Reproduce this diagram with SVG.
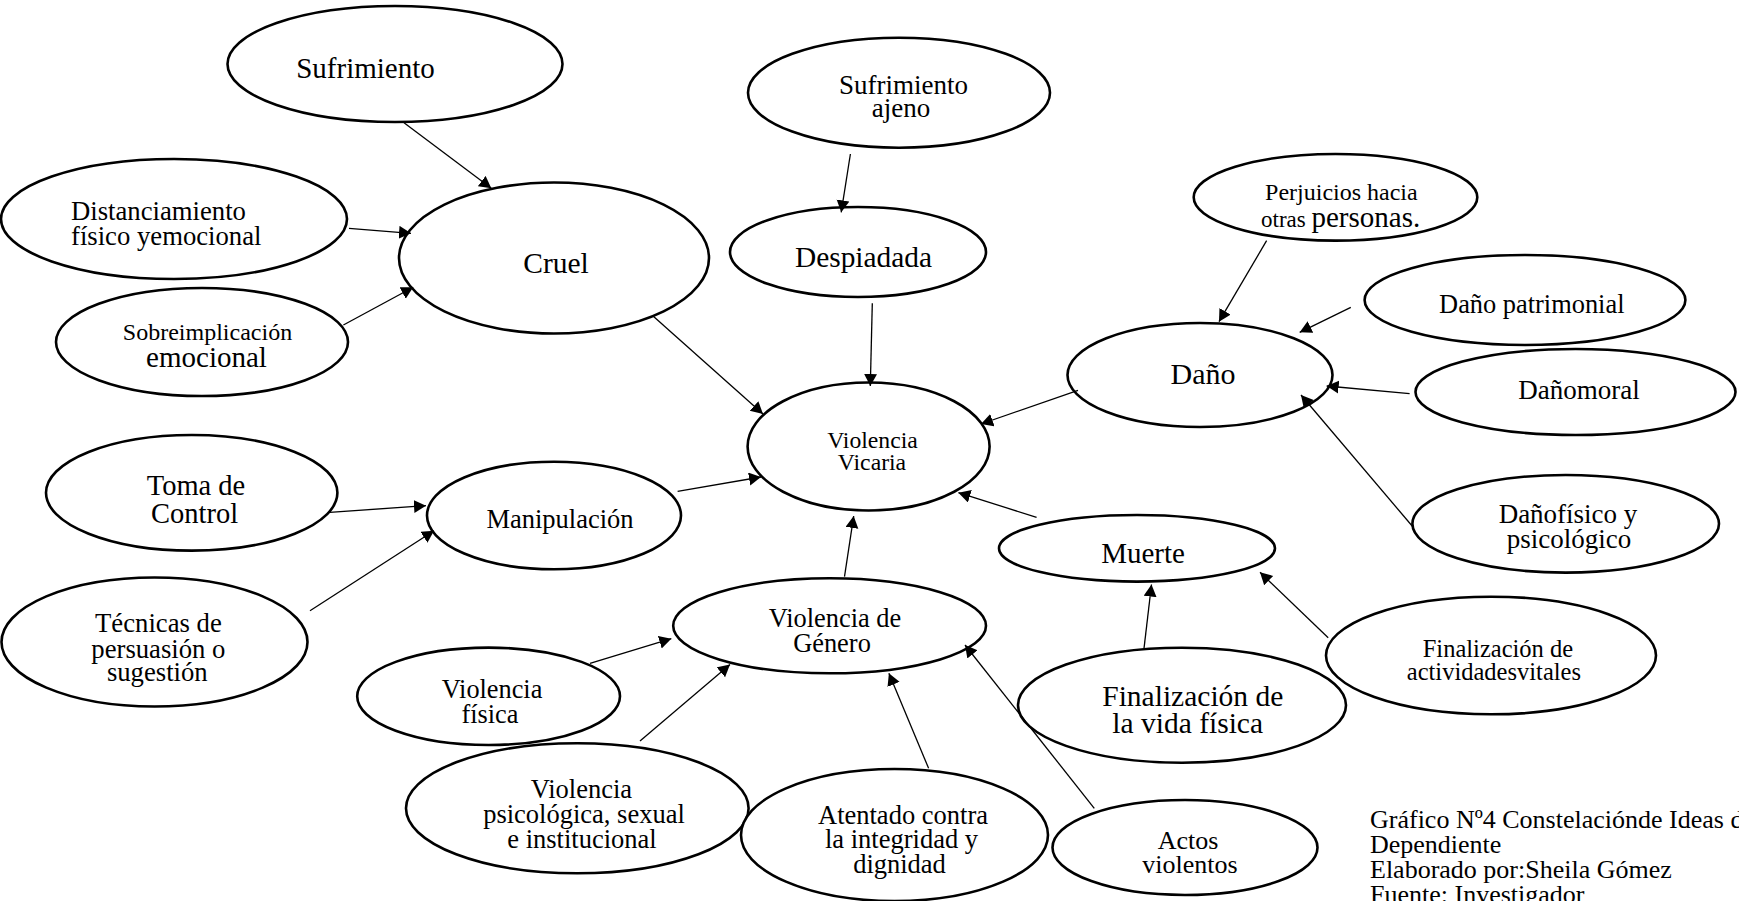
<svg xmlns="http://www.w3.org/2000/svg" width="1739" height="901" viewBox="0 0 1739 901">
<defs>
<style>
.n ellipse{fill:#fff;stroke:#000;stroke-width:2.6}
text{font-family:"Liberation Serif","Times New Roman",serif;fill:#000}
.c{text-anchor:middle}
#edges line{stroke:#000;stroke-width:1.3;marker-end:url(#ah)}
</style>
<marker id="ah" markerUnits="userSpaceOnUse" markerWidth="13" markerHeight="14" refX="12" refY="6.5" orient="auto">
<path d="M0,0 L12,6.5 L0,13 Z" fill="#000"/>
</marker>
</defs>
<rect width="1739" height="901" fill="#fff"/>
<g id="sufrimiento" class="n"><ellipse cx="395" cy="64" rx="167.5" ry="58"/><text class="c" x="365.5" y="78" font-size="29">Sufrimiento</text></g>
<g id="cruel" class="n"><ellipse cx="554" cy="258" rx="155" ry="75.5"/><text class="c" x="556" y="273" font-size="29.5">Cruel</text></g>
<g id="distanciamiento" class="n"><ellipse cx="174" cy="219" rx="173" ry="60"/><text x="71" y="220" font-size="26.7">Distanciamiento</text><text x="71" y="245" font-size="26.7">físico yemocional</text></g>
<g id="sobreimplicacion" class="n"><ellipse cx="202" cy="342" rx="146" ry="54"/><text class="c" x="207.5" y="340" font-size="24">Sobreimplicación</text><text class="c" x="206.5" y="367" font-size="29">emocional</text></g>
<g id="sufrimiento-ajeno" class="n"><ellipse cx="899" cy="92.7" rx="151" ry="55"/><text class="c" x="903.5" y="94" font-size="27">Sufrimiento</text><text class="c" x="901" y="117" font-size="27">ajeno</text></g>
<g id="despiadada" class="n"><ellipse cx="858" cy="252" rx="128" ry="45"/><text class="c" x="863.5" y="267" font-size="29.4">Despiadada</text></g>
<g id="violencia-vicaria" class="n"><ellipse cx="868.6" cy="446.5" rx="121" ry="64"/><text class="c" x="872.5" y="448" font-size="23.7">Violencia</text><text class="c" x="872" y="470" font-size="23.7">Vicaria</text></g>
<g id="perjuicios" class="n"><ellipse cx="1335.5" cy="197.3" rx="141.8" ry="43.3"/><text class="c" x="1341.4" y="200" font-size="24">Perjuicios hacia</text><text x="1261" y="227" font-size="23">otras <tspan font-size="29">personas.</tspan></text></g>
<g id="dano-patrimonial" class="n"><ellipse cx="1525" cy="300" rx="160.4" ry="45"/><text class="c" x="1531.8" y="313" font-size="26.4">Daño patrimonial</text></g>
<g id="dano" class="n"><ellipse cx="1200" cy="375" rx="132.5" ry="52"/><text class="c" x="1203" y="384" font-size="30">Daño</text></g>
<g id="dano-moral" class="n"><ellipse cx="1575.5" cy="392" rx="160" ry="43"/><text class="c" x="1579" y="399" font-size="27">Dañomoral</text></g>
<g id="dano-fisico" class="n"><ellipse cx="1565.7" cy="523.8" rx="153.3" ry="48.8"/><text class="c" x="1568" y="523" font-size="27">Dañofísico y</text><text class="c" x="1569" y="548" font-size="27">psicológico</text></g>
<g id="manipulacion" class="n"><ellipse cx="554" cy="515.5" rx="127" ry="53.8"/><text class="c" x="560" y="528" font-size="26.5">Manipulación</text></g>
<g id="toma-de-control" class="n"><ellipse cx="191.7" cy="492.8" rx="145.7" ry="57.8"/><text class="c" x="196" y="495" font-size="28.5">Toma de</text><text class="c" x="194.6" y="522.7" font-size="28.5">Control</text></g>
<g id="tecnicas" class="n"><ellipse cx="154.5" cy="642" rx="153" ry="64.5"/><text class="c" x="158.4" y="632" font-size="26.7">Técnicas de</text><text class="c" x="158.4" y="657.7" font-size="26.7">persuasión o</text><text class="c" x="157.3" y="681" font-size="26.7">sugestión</text></g>
<g id="violencia-genero" class="n"><ellipse cx="829.6" cy="625.8" rx="156.4" ry="47.5"/><text class="c" x="835" y="626.7" font-size="26.4">Violencia de</text><text class="c" x="832" y="651.7" font-size="26.4">Género</text></g>
<g id="violencia-fisica" class="n"><ellipse cx="488.6" cy="696.3" rx="131.4" ry="48.7"/><text class="c" x="492" y="697.7" font-size="26.3">Violencia</text><text class="c" x="490" y="722.7" font-size="26.3">física</text></g>
<g id="violencia-psicologica" class="n"><ellipse cx="577.3" cy="808.3" rx="171.3" ry="65"/><text class="c" x="581.4" y="798.3" font-size="26.5">Violencia</text><text class="c" x="584" y="823.3" font-size="26.5">psicológica, sexual</text><text class="c" x="582" y="847.7" font-size="26.5">e institucional</text></g>
<g id="atentado" class="n"><ellipse cx="894.5" cy="835" rx="153.5" ry="66"/><text class="c" x="903" y="824" font-size="26.5">Atentado contra</text><text class="c" x="901.5" y="848.3" font-size="26.5">la integridad y</text><text class="c" x="899.5" y="872.7" font-size="26.5">dignidad</text></g>
<g id="actos-violentos" class="n"><ellipse cx="1185" cy="847.5" rx="132.5" ry="47.5"/><text class="c" x="1188" y="849.3" font-size="26">Actos</text><text class="c" x="1190" y="873.3" font-size="26">violentos</text></g>
<g id="muerte" class="n"><ellipse cx="1137" cy="548.3" rx="138" ry="33.3"/><text class="c" x="1143" y="562.7" font-size="29">Muerte</text></g>
<g id="finalizacion-vida" class="n"><ellipse cx="1182" cy="705.2" rx="164" ry="57.5"/><text class="c" x="1192.8" y="706" font-size="29.5">Finalización de</text><text class="c" x="1187.7" y="733.3" font-size="29.5">la vida física</text></g>
<g id="finalizacion-actividades" class="n"><ellipse cx="1491" cy="655.5" rx="165" ry="58.8"/><text class="c" x="1497.9" y="656.7" font-size="24.5">Finalización de</text><text class="c" x="1493.9" y="680" font-size="24.5">actividadesvitales</text></g>
<g id="edges">
<line x1="404" y1="122.7" x2="491.3" y2="188.3"/>
<line x1="349" y1="228.3" x2="411" y2="233.3"/>
<line x1="343.4" y1="325" x2="413.2" y2="287.3"/>
<line x1="653" y1="316" x2="763" y2="414"/>
<line x1="850.4" y1="154" x2="841.2" y2="212.3"/>
<line x1="872.3" y1="303.3" x2="870.3" y2="386"/>
<line x1="1078" y1="390.4" x2="981" y2="424"/>
<line x1="1266.6" y1="240.7" x2="1219" y2="321.7"/>
<line x1="1350.8" y1="307.3" x2="1299.7" y2="332.3"/>
<line x1="1409.6" y1="393.7" x2="1326.7" y2="386"/>
<line x1="1413" y1="527" x2="1301" y2="395"/>
<line x1="1036.6" y1="517.3" x2="958.4" y2="492.7"/>
<line x1="677.6" y1="491.3" x2="761" y2="477"/>
<line x1="329.7" y1="512.3" x2="426" y2="505.7"/>
<line x1="310" y1="610.7" x2="434" y2="530.7"/>
<line x1="844.5" y1="576.7" x2="853.7" y2="516"/>
<line x1="590" y1="663.3" x2="671.3" y2="638.7"/>
<line x1="640" y1="741" x2="730" y2="664.5"/>
<line x1="928.6" y1="768.3" x2="888.9" y2="673.3"/>
<line x1="1094.3" y1="808.3" x2="965" y2="645"/>
<line x1="1144" y1="648.3" x2="1151.5" y2="584.5"/>
<line x1="1328.2" y1="637.7" x2="1260" y2="572.3"/>
</g>
<g id="caption" font-size="26">
<text x="1370" y="827.7">Gráfico Nº4 Constelaciónde Ideas de</text>
<text x="1370" y="852.7">Dependiente</text>
<text x="1370" y="877.7">Elaborado por:Sheila Gómez</text>
<text x="1370" y="902.7">Fuente: Investigador</text>
</g>
</svg>
